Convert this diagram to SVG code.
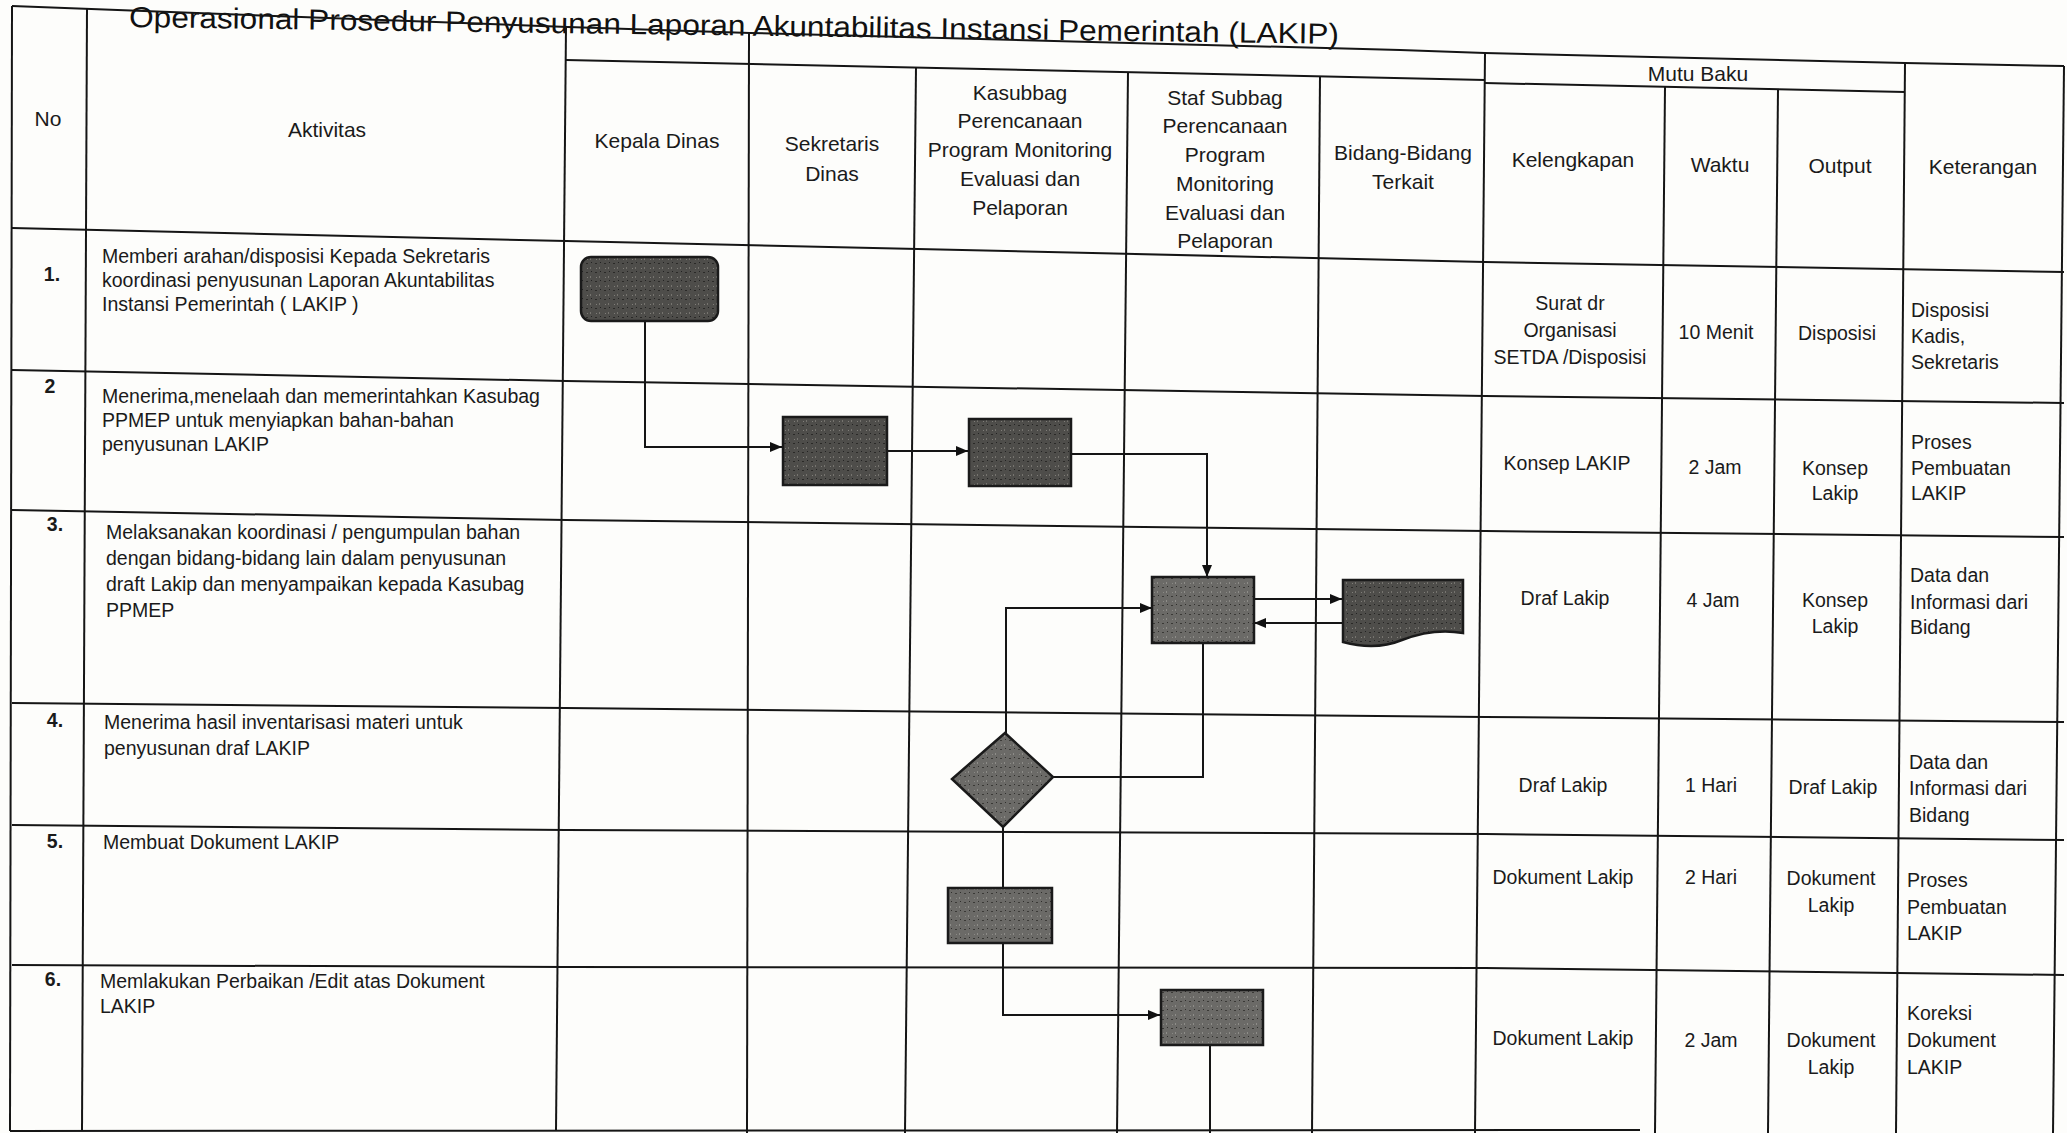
<svg xmlns="http://www.w3.org/2000/svg" width="2067" height="1133" viewBox="0 0 2067 1133">
<style>
.bg{fill:#fdfdfb}
.ln{fill:none;stroke:#151515;stroke-width:2}
.cn{fill:none;stroke:#151515;stroke-width:2}
.t{font-family:"Liberation Sans",Arial,sans-serif;font-size:19.5px;fill:#1a1a1a}
.h{font-family:"Liberation Sans",Arial,sans-serif;font-size:21px;fill:#1a1a1a}
.n{font-family:"Liberation Sans",Arial,sans-serif;font-size:19.5px;font-weight:bold;fill:#1a1a1a}
.c{text-anchor:middle}
.title{font-family:"Liberation Sans",Arial,sans-serif;font-size:29px;fill:#111}
.shp{stroke:#1a1a1a;stroke-width:2.5}
</style>
<defs>
<pattern id="texMid" width="9" height="9" patternUnits="userSpaceOnUse">
<rect width="9" height="9" fill="#6b6a67"/>
<rect x="1" y="2" width="2" height="1" fill="#3a3936"/>
<rect x="5" y="6" width="1" height="2" fill="#8e8d89"/>
<rect x="6" y="1" width="1" height="1" fill="#2f2e2c"/>
<rect x="2" y="7" width="1" height="1" fill="#8a8985"/>
</pattern>
<pattern id="texDark" width="9" height="9" patternUnits="userSpaceOnUse">
<rect width="9" height="9" fill="#4e4d4a"/>
<rect x="1" y="2" width="2" height="1" fill="#2a2927"/>
<rect x="5" y="6" width="1" height="2" fill="#76746f"/>
<rect x="6" y="1" width="1" height="1" fill="#222"/>
<rect x="2" y="7" width="1" height="1" fill="#807e79"/>
</pattern>
<marker id="arr" viewBox="0 0 12 10" refX="12" refY="5" markerWidth="12" markerHeight="10" markerUnits="userSpaceOnUse" orient="auto">
<path d="M0,0 L12,5 L0,10 Z" fill="#111"/>
</marker>
</defs>
<rect class="bg" x="0" y="0" width="2067" height="1133"/>

<text class="title" x="129" y="27" textLength="1210" lengthAdjust="spacingAndGlyphs" transform="rotate(0.8 129 27)">Operasional Prosedur Penyusunan Laporan Akuntabilitas Instansi Pemerintah (LAKIP)</text>

<g id="table">
<polyline class="ln" points="12,6 568,27 750,33 1400,50 1485,53 1905,63 2064,66"/>
<polyline class="ln" points="566,60 1485,80"/>
<polyline class="ln" points="1485,83 1905,92"/>
<polyline class="ln" points="12,228 566,241 1485,262 2064,272"/>
<polyline class="ln" points="12,370 566,381 1485,396 2064,403"/>
<polyline class="ln" points="12,510 566,520 1485,531 2064,537"/>
<polyline class="ln" points="12,703 566,708 1485,717 2064,722"/>
<polyline class="ln" points="12,825 566,830 1485,834 2064,840"/>
<polyline class="ln" points="12,965 566,967 1485,968 2064,975"/>
<polyline class="ln" points="10,1131 1640,1130"/>
<line class="ln" x1="12" y1="6" x2="10" y2="1131"/>
<line class="ln" x1="87" y1="8" x2="82" y2="1131"/>
<line class="ln" x1="566" y1="26" x2="556" y2="1131"/>
<line class="ln" x1="749" y1="33" x2="747" y2="1133"/>
<line class="ln" x1="916" y1="67" x2="905" y2="1133"/>
<line class="ln" x1="1128" y1="72" x2="1117" y2="1133"/>
<line class="ln" x1="1320" y1="76" x2="1312" y2="1133"/>
<line class="ln" x1="1485" y1="53" x2="1475" y2="1133"/>
<line class="ln" x1="1665" y1="87" x2="1655" y2="1133"/>
<line class="ln" x1="1778" y1="89" x2="1768" y2="1133"/>
<line class="ln" x1="1905" y1="63" x2="1896" y2="1133"/>
<line class="ln" x1="2064" y1="66" x2="2053" y2="1133"/>
</g>

<g id="header">
<text class="h c" x="48" y="126">No</text>
<text class="h c" x="327" y="137">Aktivitas</text>
<text class="h c" x="657" y="148">Kepala Dinas</text>
<text class="h c" x="832" y="151">Sekretaris</text>
<text class="h c" x="832" y="181">Dinas</text>
<text class="h c" x="1020" y="100">Kasubbag</text>
<text class="h c" x="1020" y="128">Perencanaan</text>
<text class="h c" x="1020" y="157">Program Monitoring</text>
<text class="h c" x="1020" y="186">Evaluasi dan</text>
<text class="h c" x="1020" y="215">Pelaporan</text>
<text class="h c" x="1225" y="105">Staf Subbag</text>
<text class="h c" x="1225" y="133">Perencanaan</text>
<text class="h c" x="1225" y="162">Program</text>
<text class="h c" x="1225" y="191">Monitoring</text>
<text class="h c" x="1225" y="220">Evaluasi dan</text>
<text class="h c" x="1225" y="248">Pelaporan</text>
<text class="h c" x="1403" y="160">Bidang-Bidang</text>
<text class="h c" x="1403" y="189">Terkait</text>
<text class="h c" x="1698" y="81">Mutu Baku</text>
<text class="h c" x="1573" y="167">Kelengkapan</text>
<text class="h c" x="1720" y="172">Waktu</text>
<text class="h c" x="1840" y="173">Output</text>
<text class="h c" x="1983" y="174">Keterangan</text>
</g>

<g id="rows">
<text class="n c" x="52" y="281">1.</text>
<text class="t" x="102" y="263">Memberi arahan/disposisi Kepada Sekretaris</text>
<text class="t" x="102" y="287">koordinasi penyusunan Laporan Akuntabilitas</text>
<text class="t" x="102" y="311">Instansi Pemerintah ( LAKIP )</text>

<text class="n c" x="50" y="393">2</text>
<text class="t" x="102" y="403">Menerima,menelaah dan memerintahkan Kasubag</text>
<text class="t" x="102" y="427">PPMEP untuk menyiapkan bahan-bahan</text>
<text class="t" x="102" y="451">penyusunan LAKIP</text>

<text class="n c" x="55" y="531">3.</text>
<text class="t" x="106" y="539">Melaksanakan koordinasi / pengumpulan bahan</text>
<text class="t" x="106" y="565">dengan bidang-bidang lain dalam penyusunan</text>
<text class="t" x="106" y="591">draft Lakip dan menyampaikan kepada Kasubag</text>
<text class="t" x="106" y="617">PPMEP</text>

<text class="n c" x="55" y="727">4.</text>
<text class="t" x="104" y="729">Menerima hasil inventarisasi materi untuk</text>
<text class="t" x="104" y="755">penyusunan draf LAKIP</text>

<text class="n c" x="55" y="848">5.</text>
<text class="t" x="103" y="849">Membuat Dokument  LAKIP</text>

<text class="n c" x="53" y="986">6.</text>
<text class="t" x="100" y="988">Memlakukan Perbaikan /Edit atas Dokument</text>
<text class="t" x="100" y="1013">LAKIP</text>
</g>

<g id="mutu">
<text class="t c" x="1570" y="310">Surat dr</text>
<text class="t c" x="1570" y="337">Organisasi</text>
<text class="t c" x="1570" y="364">SETDA /Disposisi</text>
<text class="t c" x="1716" y="339">10 Menit</text>
<text class="t c" x="1837" y="340">Disposisi</text>
<text class="t" x="1911" y="317">Disposisi</text>
<text class="t" x="1911" y="343">Kadis,</text>
<text class="t" x="1911" y="369">Sekretaris</text>

<text class="t c" x="1567" y="470">Konsep LAKIP</text>
<text class="t c" x="1715" y="474">2 Jam</text>
<text class="t c" x="1835" y="475">Konsep</text>
<text class="t c" x="1835" y="500">Lakip</text>
<text class="t" x="1911" y="449">Proses</text>
<text class="t" x="1911" y="475">Pembuatan</text>
<text class="t" x="1911" y="500">LAKIP</text>

<text class="t c" x="1565" y="605">Draf Lakip</text>
<text class="t c" x="1713" y="607">4 Jam</text>
<text class="t c" x="1835" y="607">Konsep</text>
<text class="t c" x="1835" y="633">Lakip</text>
<text class="t" x="1910" y="582">Data dan</text>
<text class="t" x="1910" y="609">Informasi dari</text>
<text class="t" x="1910" y="634">Bidang</text>

<text class="t c" x="1563" y="792">Draf  Lakip</text>
<text class="t c" x="1711" y="792">1 Hari</text>
<text class="t c" x="1833" y="794">Draf Lakip</text>
<text class="t" x="1909" y="769">Data dan</text>
<text class="t" x="1909" y="795">Informasi dari</text>
<text class="t" x="1909" y="822">Bidang</text>

<text class="t c" x="1563" y="884">Dokument Lakip</text>
<text class="t c" x="1711" y="884">2 Hari</text>
<text class="t c" x="1831" y="885">Dokument</text>
<text class="t c" x="1831" y="912">Lakip</text>
<text class="t" x="1907" y="887">Proses</text>
<text class="t" x="1907" y="914">Pembuatan</text>
<text class="t" x="1907" y="940">LAKIP</text>

<text class="t c" x="1563" y="1045">Dokument Lakip</text>
<text class="t c" x="1711" y="1047">2 Jam</text>
<text class="t c" x="1831" y="1047">Dokument</text>
<text class="t c" x="1831" y="1074">Lakip</text>
<text class="t" x="1907" y="1020">Koreksi</text>
<text class="t" x="1907" y="1047">Dokument</text>
<text class="t" x="1907" y="1074">LAKIP</text>
</g>

<g id="connectors">
<polyline class="cn" points="645,321 645,447 782,447" marker-end="url(#arr)"/>
<line class="cn" x1="887" y1="451" x2="968" y2="451" marker-end="url(#arr)"/>
<polyline class="cn" points="1071,454 1207,454 1207,577" marker-end="url(#arr)"/>
<line class="cn" x1="1254" y1="599" x2="1342" y2="599" marker-end="url(#arr)"/>
<line class="cn" x1="1342" y1="623" x2="1254" y2="623" marker-end="url(#arr)"/>
<polyline class="cn" points="1006,733 1006,608 1152,608" marker-end="url(#arr)"/>
<polyline class="cn" points="1203,643 1203,777 1053,777"/>
<line class="cn" x1="1003" y1="827" x2="1003" y2="888"/>
<polyline class="cn" points="1003,943 1003,1015 1160,1015" marker-end="url(#arr)"/>
<line class="cn" x1="1210" y1="1045" x2="1210" y2="1133"/>
</g>

<g id="n1-start"><rect class="shp" x="581" y="257" width="137" height="64" rx="10" fill="url(#texDark)"/></g>
<g id="n2-sekretaris"><rect class="shp" x="783" y="417" width="104" height="68" fill="url(#texDark)"/></g>
<g id="n3-kasubbag"><rect class="shp" x="969" y="419" width="102" height="67" fill="url(#texDark)"/></g>
<g id="n4-staf"><rect class="shp" x="1152" y="577" width="102" height="66" fill="url(#texMid)"/></g>
<g id="n5-bidang"><path class="shp" d="M1343,580 H1463 V633 C1440,629 1420,633 1402,640 C1385,647 1365,648 1343,642 Z" fill="url(#texDark)"/></g>
<g id="n6-decision"><polygon class="shp" points="1005,733 1053,777 1003,827 952,779" fill="url(#texMid)"/></g>
<g id="n7-dokumen"><rect class="shp" x="948" y="888" width="104" height="55" fill="url(#texMid)"/></g>
<g id="n8-perbaikan"><rect class="shp" x="1161" y="990" width="102" height="55" fill="url(#texMid)"/></g>
</svg>
